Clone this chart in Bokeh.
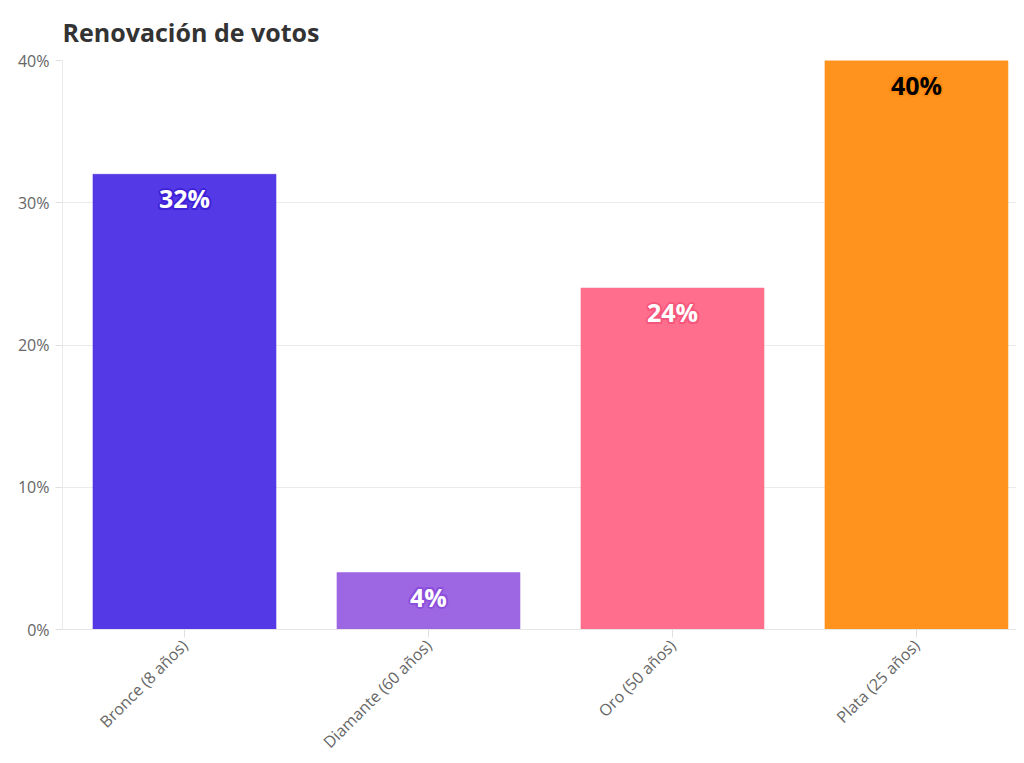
import math
from bokeh.plotting import figure
from bokeh.models import Range1d, FixedTicker, ColumnDataSource, CustomJSTickFormatter
from bokeh.core.properties import value
from bokeh.embed import file_html
from bokeh.resources import INLINE

categories = ["Bronce (8 años)", "Diamante (60 años)", "Oro (50 años)", "Plata (25 años)"]
values = [32, 4, 24, 40]
colors = ["#5439e6", "#9d66e3", "#ff6e8c", "#ff931e"]
halo_colors = ["#3f22d8", "#8c4fdc", "#f5577c", "#ff8a10"]
label_colors = ["white", "white", "white", "black"]
y_ticks = [0, 10, 20, 30, 40]

FONT = "Open Sans"
idx = list(range(len(categories)))
xs = [i + 0.5 for i in idx]

src = ColumnDataSource(dict(x=xs, top=values, color=colors, halo=halo_colors,
                            label=[f"{v}%" for v in values], lc=label_colors))

p = figure(width=1016, height=763, output_backend="svg", toolbar_location=None,
           x_range=Range1d(0, 3.91), y_range=Range1d(0, 40),
           min_border_left=62, min_border_right=0, min_border_bottom=100, min_border_top=10)
p.outline_line_color = None
p.title.text = "Renovación de votos"
p.title.text_font = FONT
p.title.text_font_size = "25px"
p.title.text_font_style = "bold"
p.title.text_color = "#333333"
p.title.offset = 0
p.title.standoff = 24

p.vbar(x="x", top="top", width=0.75, bottom=0, source=src, fill_color="color",
       line_color="color", line_alpha=0.6, line_width=1)

LBL_OFF = 24
for dx, dy in [(-2, 0), (2, 0), (0, -2), (0, 2), (-1.5, -1.5), (1.5, -1.5), (-1.5, 1.5), (1.5, 1.5)]:
    p.text(x="x", y="top", text="label", source=src, text_color="halo",
           text_align="center", text_baseline="middle", x_offset=dx, y_offset=LBL_OFF + dy,
           text_font=value(FONT), text_font_size="25px", text_font_style="bold")
p.text(x="x", y="top", text="label", source=src, text_color="lc",
       text_align="center", text_baseline="middle", y_offset=LBL_OFF,
       text_font=value(FONT), text_font_size="25px", text_font_style="bold")

p.xgrid.grid_line_color = None
p.ygrid.grid_line_color = "#ebebeb"
p.ygrid.ticker = FixedTicker(ticks=y_ticks)

p.yaxis.ticker = FixedTicker(ticks=y_ticks)
p.yaxis.formatter = CustomJSTickFormatter(code="return tick + '%';")
p.yaxis.axis_line_color = "#ebebeb"
p.yaxis.major_tick_line_color = "#e0e0e0"
p.yaxis.major_tick_out = 7
p.yaxis.major_tick_in = 0
p.yaxis.minor_tick_line_color = None
p.yaxis.major_label_text_font = FONT
p.yaxis.major_label_text_font_size = "16px"
p.yaxis.major_label_text_color = "#666666"
p.yaxis.major_label_standoff = 6

p.xaxis.ticker = FixedTicker(ticks=xs)
p.xaxis.major_label_overrides = {x: c for x, c in zip(xs, categories)}
p.xaxis.major_label_orientation = math.pi / 4
p.xaxis.axis_line_color = "#e6e6e6"
p.xaxis.major_tick_line_color = "#e0e0e0"
p.xaxis.major_tick_out = 8
p.xaxis.major_tick_in = 0
p.xaxis.minor_tick_line_color = None
p.xaxis.major_label_text_font = FONT
p.xaxis.major_label_text_font_size = "16px"
p.xaxis.major_label_text_color = "#666666"
p.xaxis.major_label_standoff = 5

open("out.html", "w").write(file_html(p, INLINE))
